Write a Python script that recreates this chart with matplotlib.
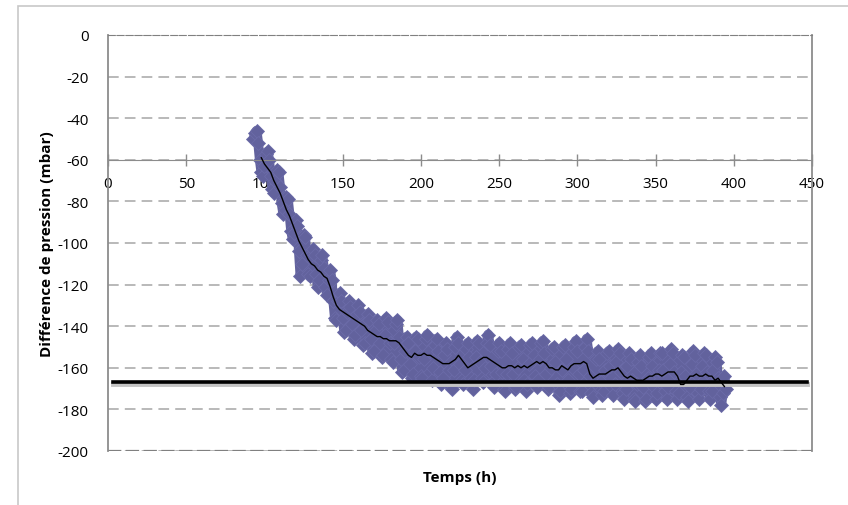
import numpy as np
import matplotlib.pyplot as plt
from matplotlib.patches import Rectangle

# raw measurements, one per hour starting at t = 93 h
raw_start = 93
raw_values = [
    -50, -47, -46, -52, -60, -66, -68, -63, -57, -56,
    -60, -68, -74, -76, -70, -65, -66, -73, -81, -86,
    -84, -78, -79, -86, -94, -98, -95, -89, -92, -104,
    -116, -110, -96, -97, -106, -115, -116, -106, -103, -106,
    -115, -121, -118, -108, -106, -112, -121, -125, -118, -113,
    -118, -128, -136, -137, -128, -124, -128, -136, -143, -142,
    -133, -128, -131, -139, -146, -144, -134, -130, -133, -142,
    -149, -148, -138, -134, -137, -146, -153, -152, -142, -137,
    -139, -148, -155, -154, -144, -136, -138, -148, -156, -157,
    -148, -139, -137, -145, -156, -162, -161, -152, -145, -148,
    -158, -165, -163, -152, -145, -146, -155, -164, -165, -156,
    -146, -144, -152, -162, -166, -160, -149, -146, -152, -162,
    -168, -165, -154, -148, -151, -161, -169, -170, -161, -150,
    -145, -148, -158, -166, -168, -161, -151, -148, -155, -165,
    -170, -166, -155, -147, -148, -157, -165, -167, -160, -148,
    -144, -149, -159, -167, -169, -163, -152, -148, -152, -162,
    -170, -171, -163, -151, -148, -153, -163, -170, -169, -160,
    -150, -149, -156, -166, -171, -168, -158, -149, -148, -154,
    -164, -169, -166, -156, -148, -147, -153, -163, -170, -169,
    -160, -151, -150, -157, -168, -173, -171, -161, -150, -149,
    -156, -166, -172, -170, -160, -150, -147, -152, -163, -171,
    -171, -161, -150, -146, -152, -164, -172, -174, -167, -156,
    -152, -156, -167, -173, -171, -161, -153, -152, -159, -169,
    -173, -168, -157, -151, -153, -162, -172, -175, -170, -159,
    -153, -156, -166, -175, -176, -168, -157, -154, -159, -169,
    -176, -175, -165, -155, -153, -159, -169, -175, -172, -161,
    -153, -153, -161, -171, -175, -169, -158, -151, -153, -162,
    -171, -175, -172, -162, -154, -155, -164, -174, -176, -169,
    -158, -152, -154, -163, -172, -175, -170, -159, -153, -154,
    -162, -171, -175, -171, -161, -155, -157, -165, -174, -178,
    -172, -164, -170,
]

# moving average, every 2 h starting at t = 98 h
avg_start = 98
avg_values = [
    -59, -62, -64, -66, -70, -73, -76, -80, -84, -87,
    -91, -95, -99, -102, -105, -108, -110, -111, -113, -114,
    -116, -117, -121, -126, -130, -132, -133, -134, -135, -136,
    -137, -138, -139, -140, -142, -143, -144, -145, -145, -146,
    -146, -147, -147, -147, -148, -150, -152, -154, -155, -153,
    -154, -154, -153, -154, -154, -155, -156, -157, -158, -158,
    -158, -157, -156, -154, -156, -158, -160, -159, -158, -157,
    -156, -155, -155, -156, -157, -158, -159, -160, -160, -159,
    -159, -160, -159, -160, -159, -160, -159, -158, -157, -158,
    -157, -158, -160, -160, -161, -161, -159, -160, -161, -159,
    -158, -158, -158, -157, -158, -163, -165, -164, -163, -163,
    -163, -162, -161, -161, -160, -162, -164, -165, -164, -165,
    -166, -166, -166, -165, -164, -164, -163, -163, -164, -163,
    -162, -162, -162, -164, -168, -168, -166, -164, -164, -163,
    -164, -164, -163, -164, -164, -166, -165, -167, -169,
]

ref_level = -167
ref_span = [3, 447]

x_ticks = [0, 50, 100, 150, 200, 250, 300, 350, 400, 450]
y_ticks = [0, -20, -40, -60, -80, -100, -120, -140, -160, -180, -200]

plt.rcParams['font.family'] = ['Open Sans', 'DejaVu Sans']
plt.rcParams['axes.unicode_minus'] = False

fig = plt.figure(figsize=(8.48, 5.06), dpi=100, facecolor='w')
fig.patches.append(Rectangle((18 / 848, -0.05), 1.0, 1 - 7 / 506 + 0.05,
                             transform=fig.transFigure, fill=False,
                             edgecolor='#c8c8c8', lw=1.2))
ax = fig.add_axes([108 / 848, 1 - 452 / 506, 704 / 848, 416 / 506])

t_raw = np.arange(raw_start, raw_start + len(raw_values))
t_avg = np.arange(avg_start, avg_start + 2 * len(avg_values), 2)

for y in y_ticks:
    ax.axhline(y, color='#a6a6a6', lw=1.1, ls=(0, (7, 4)), zorder=0)

# dense measurement cloud: thick joined strokes + diamond markers
ax.plot(t_raw, raw_values, '-', lw=7, color='#62629d', solid_joinstyle='round',
        solid_capstyle='round', zorder=2)
ax.plot(t_raw, raw_values, 'D', ms=7, color='#62629d',
        markeredgecolor='#6b6ba8', markeredgewidth=0.6, zorder=2)
ax.plot(ref_span, [ref_level - 0.8, ref_level - 0.8], color='#c4c4c4', lw=3.5, zorder=2.5)
ax.plot(ref_span, [ref_level, ref_level], color='black', lw=2.6, zorder=3)
ax.plot(t_avg, avg_values, color='black', lw=1.0, zorder=4)

ax.set_xlim(0, 450)
ax.set_ylim(-200, 0)
ax.set_xticks(x_ticks)
ax.set_yticks(y_ticks)

ax.spines['bottom'].set_position(('data', -60))
ax.spines['bottom'].set_color('#8c8c8c')
ax.spines['left'].set_color('#8c8c8c')
ax.spines['right'].set_color('#8c8c8c')
ax.spines['top'].set_color('#808080')
ax.spines['top'].set_linestyle((0, (6, 2)))
ax.spines['left'].set_linewidth(1.3)
ax.spines['right'].set_linewidth(1.3)
ax.axhline(-200, color='#808080', lw=1.6, ls=(0, (6, 2)), zorder=1)

ax.tick_params(axis='x', direction='inout', length=8, width=1, color='#8c8c8c',
               pad=8, labelsize=11)
ax.tick_params(axis='y', length=0, pad=14, labelsize=11)

ax.set_xlabel('Temps (h)', fontsize=11, fontweight='bold')
ax.xaxis.set_label_coords(0.5, -0.045)
ax.set_ylabel('Différence de pression (mbar)', fontsize=11, fontweight='bold')
ax.yaxis.set_label_coords(-0.076, 0.5)

plt.savefig('out.png', dpi=100)
